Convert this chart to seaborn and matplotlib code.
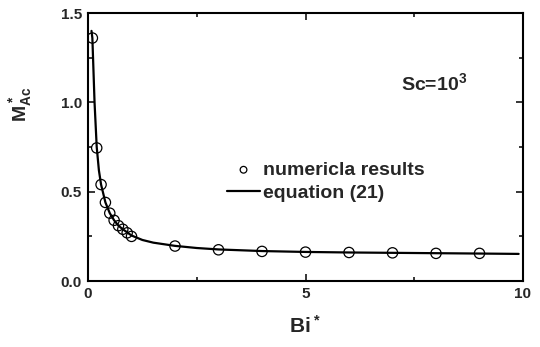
import matplotlib
matplotlib.use("Agg")
import matplotlib.pyplot as plt
import seaborn as sns
import pandas as pd
from matplotlib.ticker import MultipleLocator, FormatStrFormatter

# numerical results (circles)
bi_points = [0.1, 0.2, 0.3, 0.4, 0.5, 0.6, 0.7, 0.8, 0.9, 1.0, 2, 3, 4, 5, 6, 7, 8, 9]
m_points = [1.36, 0.745, 0.54, 0.44, 0.38, 0.34, 0.31, 0.29, 0.27, 0.25,
            0.196, 0.175, 0.166, 0.162, 0.160, 0.158, 0.155, 0.155]

# equation (21) curve
bi_line = [0.08, 0.1, 0.15, 0.2, 0.25, 0.3, 0.4, 0.5, 0.6, 0.7, 0.8, 1.0,
           1.25, 1.5, 2, 2.5, 3, 4, 5, 6, 7, 8, 9, 9.9]
m_line = [1.40, 1.36, 1.00, 0.75, 0.62, 0.54, 0.44, 0.38, 0.34, 0.31, 0.29, 0.255,
          0.23, 0.215, 0.197, 0.185, 0.177, 0.168, 0.163, 0.160, 0.158, 0.156, 0.154, 0.152]

legend_labels = ["numericla results", "equation (21)"]
annotation = r"Sc=10$^3$"

sns.set_theme(style="ticks")
plt.rcParams["font.family"] = ["Liberation Sans", "DejaVu Sans"]
plt.rcParams["font.weight"] = "bold"
plt.rcParams["mathtext.fontset"] = "custom"
plt.rcParams["mathtext.rm"] = "Liberation Sans:bold"
plt.rcParams["mathtext.it"] = "Liberation Sans:bold"
plt.rcParams["mathtext.bf"] = "Liberation Sans:bold"

df_pts = pd.DataFrame({"Bi": bi_points, "M": m_points})
df_line = pd.DataFrame({"Bi": bi_line, "M": m_line})

fig = plt.figure(figsize=(5.4, 3.47), dpi=100)
ax = fig.add_axes([0.163, 0.19, 0.8055, 0.7725])

sns.lineplot(data=df_line, x="Bi", y="M", ax=ax, color="black", linewidth=1.6,
             label=legend_labels[1], legend=False)
sns.scatterplot(data=df_pts, x="Bi", y="M", ax=ax, marker="o", s=55,
                facecolor="none", edgecolor="black", linewidth=0.9,
                label=legend_labels[0], legend=False)

ax.set_xlim(0, 10)
ax.set_ylim(0, 1.5)
ax.xaxis.set_major_locator(MultipleLocator(5))
ax.xaxis.set_minor_locator(MultipleLocator(2.5))
ax.yaxis.set_major_locator(MultipleLocator(0.5))
ax.yaxis.set_minor_locator(MultipleLocator(0.25))
ax.yaxis.set_major_formatter(FormatStrFormatter("%.1f"))
ax.tick_params(which="both", direction="in", top=True, right=True, width=1.3,
               labelsize=11)
ax.tick_params(axis="x", pad=4.5)
ax.tick_params(axis="y", pad=4.5)
ax.tick_params(which="major", length=5)
ax.tick_params(which="minor", length=3)
for s in ax.spines.values():
    s.set_linewidth(1.5)
    s.set_color("black")
for lab in ax.get_xticklabels() + ax.get_yticklabels():
    lab.set_fontweight("bold")

ax.set_xlabel(r"$Bi^*$", fontsize=15)
ax.set_ylabel(r"$M^*_{Ac}$", fontsize=14)
ax.xaxis.set_label_coords(0.5, -0.125)
ax.yaxis.set_label_coords(-0.124, 0.66)

ax.text(7.95, 1.105, annotation, ha="center", va="center", fontsize=14,
        fontweight="bold")

h, l = ax.get_legend_handles_labels()
order = [l.index(legend_labels[0]), l.index(legend_labels[1])]
leg = ax.legend([h[i] for i in order], [l[i] for i in order],
                loc="upper left", bbox_to_anchor=(0.3195, 0.447), frameon=False,
                fontsize=14, handlelength=1.7, handletextpad=0.15,
                borderpad=0, borderaxespad=0, labelspacing=0.3, markerscale=0.65)
for t in leg.get_texts():
    t.set_fontweight("bold")

fig.savefig("out.png", dpi=100, facecolor="white")
